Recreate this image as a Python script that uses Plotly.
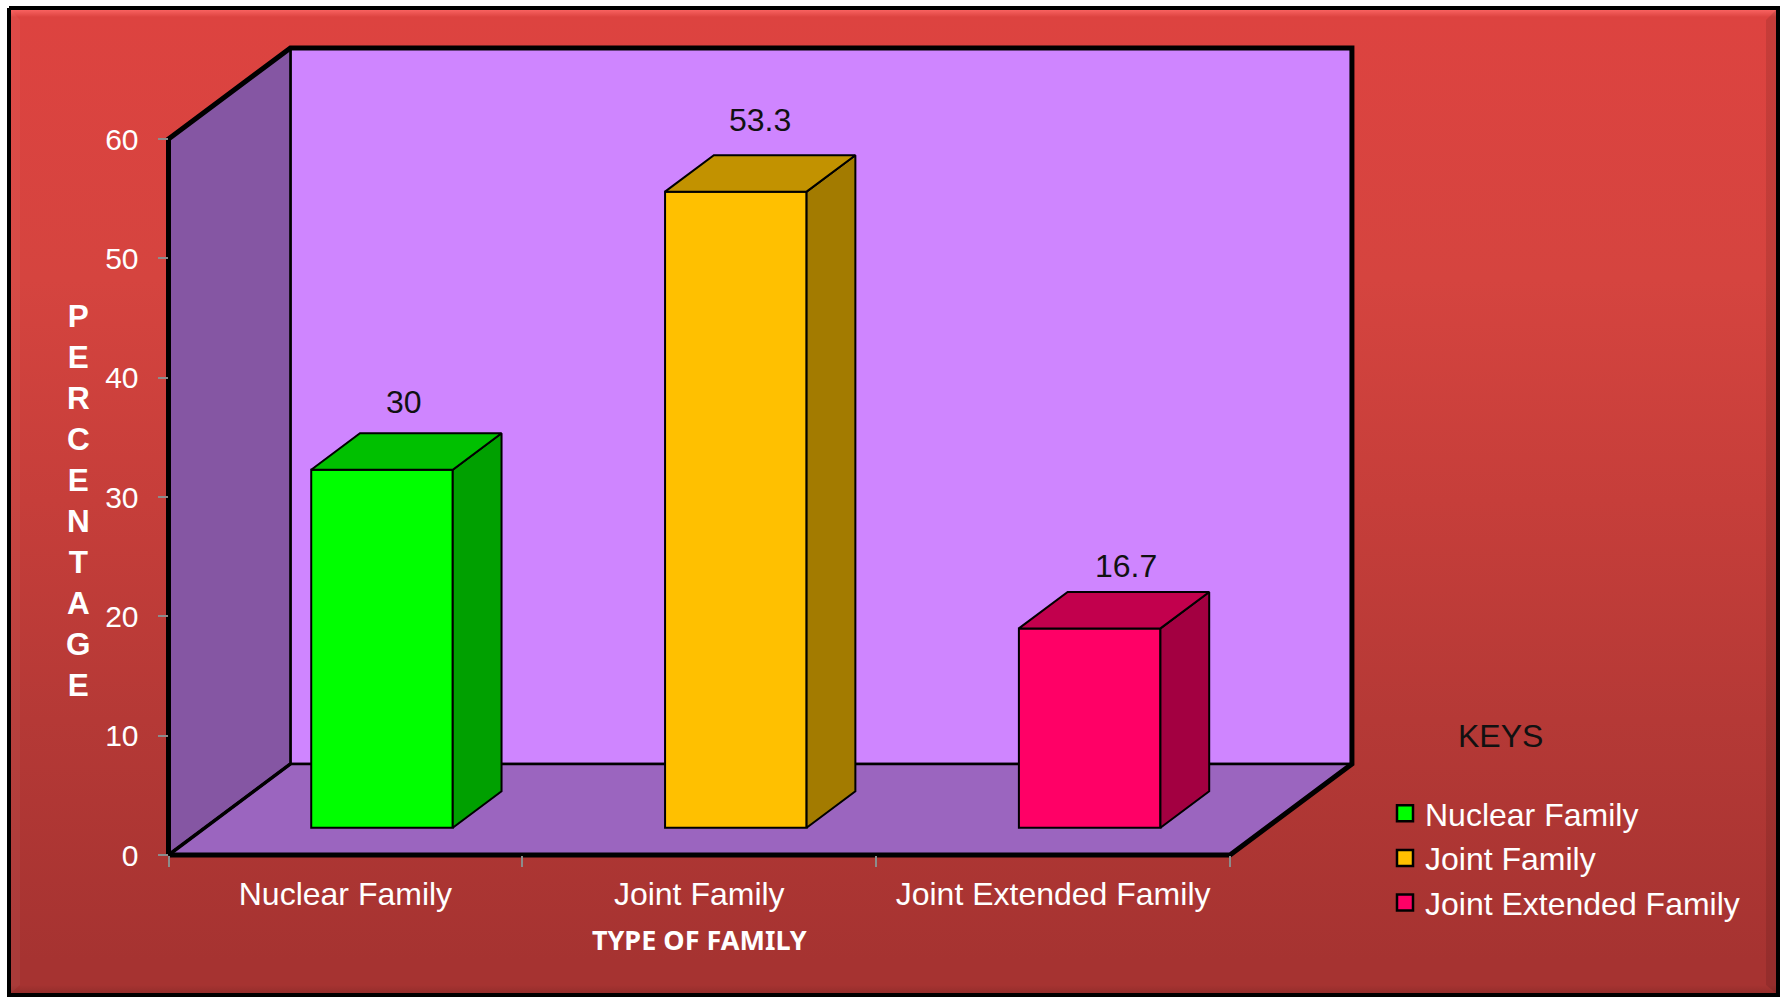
import plotly.graph_objects as go

# ---- data ----
categories = ["Nuclear Family", "Joint Family", "Joint Extended Family"]
values = [30, 53.3, 16.7]
value_labels = ["30", "53.3", "16.7"]
y_ticks = [0, 10, 20, 30, 40, 50, 60]
front_colors = ["#00FF00", "#FFC000", "#FF0066"]
side_colors = ["#00A000", "#A37B00", "#A30041"]
top_colors = ["#00C000", "#C29200", "#C2004D"]
label_xshift = [-2, 0, 11.5]
label_yshift = [49, 53, 44]

# ---- oblique projection, in axis units ----
W, H = 1780, 997
DX, DY = 0.3446, 7.63      # full depth of the box
BAR_W, BAR_FRONT, BAR_DEPTH = 0.4, 0.3, 0.4
XR, YR = [-0.5, 2.5], [0, 60]
FX0, FX1, FY0, FY1 = 168.5, 1230, 855, 139   # front plane, pixels
PADX, PADY = 0.05, 1.5
BLACK = "#000000"
FONT = "Liberation Sans"

sx = (FX1 - FX0) / (XR[1] - XR[0])
sy = (FY0 - FY1) / (YR[1] - YR[0])

fig = go.Figure()

# page background (pixel axes)
bg_stops = [(0, "#F86260"), (10, "#F86260"), (17, "#DD4340"), (280, "#D5443F"),
            (500, "#C63E3A"), (720, "#B53936"), (960, "#A63331"), (985, "#A63331"), (997, "#8C2B29")]
fig.add_trace(go.Scatter(
    x=[9, 1778, 1778, 9, 9], y=[8, 8, 995, 995, 8], mode="lines", fill="toself",
    line=dict(color=BLACK, width=4), hoverinfo="skip", showlegend=False,
    fillgradient=dict(type="vertical", start=0, stop=H,
                      colorscale=[[p / H, c] for p, c in bg_stops]),
    xaxis="x", yaxis="y"))
# bevels
fig.add_trace(go.Scatter(x=[11, 20, 20, 11, 11], y=[10, 20, 985, 993, 10], mode="lines", fill="toself",
                         line=dict(width=0), fillcolor="rgba(255,255,255,0.04)", hoverinfo="skip",
                         showlegend=False, xaxis="x", yaxis="y"))
fig.add_trace(go.Scatter(x=[1776, 1766, 1766, 1776, 1776], y=[10, 20, 985, 993, 10], mode="lines", fill="toself",
                         line=dict(width=0), fillcolor="rgba(0,0,0,0.10)", hoverinfo="skip",
                         showlegend=False, xaxis="x", yaxis="y"))


def poly(pts, fill, lw=1.5, axes="x3"):
    xs = [p[0] for p in pts]
    ys = [p[1] for p in pts]
    ynum = "y" + axes[1:]
    fig.add_trace(go.Scatter(x=xs, y=ys, mode="lines", fill="toself" if fill else "none",
                             fillcolor=fill, line=dict(color=BLACK, width=lw),
                             hoverinfo="skip", showlegend=False, xaxis=axes, yaxis=ynum))


x0, x1 = XR
y0, y1 = YR
# walls and floor (on a hidden axis pair with the same scale, slightly larger domain)
poly([(x0 + DX, y0 + DY), (x1 + DX, y0 + DY), (x1 + DX, y1 + DY), (x0 + DX, y1 + DY), (x0 + DX, y0 + DY)], "#CF85FF", 2.5, "x2")
poly([(x0, y0), (x0 + DX, y0 + DY), (x0 + DX, y1 + DY), (x0, y1), (x0, y0)], "#8556A3", 2.5, "x2")
poly([(x0, y0), (x1, y0), (x1 + DX, y0 + DY), (x0 + DX, y0 + DY), (x0, y0)], "#9B65BF", 2.5, "x2")
# heavy outer edges
fig.add_trace(go.Scatter(
    x=[x0, x0, x0 + DX, x1 + DX, x1 + DX, x1, x0],
    y=[y0, y1, y1 + DY, y1 + DY, y0 + DY, y0, y0],
    mode="lines", line=dict(color=BLACK, width=5), hoverinfo="skip",
    showlegend=False, xaxis="x2", yaxis="y2"))
fig.add_trace(go.Scatter(x=[x0, x0 + DX], y=[y0, y0 + DY], mode="lines", line=dict(color=BLACK, width=3.5),
                         hoverinfo="skip", showlegend=False, xaxis="x2", yaxis="y2"))

# bars: real bars for the front, polygons for the side and top faces
fx = BAR_FRONT * DX
fy = BAR_FRONT * DY
bx = BAR_DEPTH * DX
by = BAR_DEPTH * DY
for i, (cat, val) in enumerate(zip(categories, values)):
    fig.add_trace(go.Bar(x=[i + fx], y=[val], base=[fy], width=[BAR_W], name=cat,
                         marker=dict(color=front_colors[i], line=dict(color=BLACK, width=2)),
                         showlegend=False, hovertemplate=cat + ": %{y}<extra></extra>",
                         xaxis="x3", yaxis="y3"))
    l, r = i + fx - BAR_W / 2, i + fx + BAR_W / 2
    t = fy + val
    poly([(r, fy), (r + bx, fy + by), (r + bx, t + by), (r, t), (r, fy)], side_colors[i], 2)
    poly([(l, t), (r, t), (r + bx, t + by), (l + bx, t + by), (l, t)], top_colors[i], 2)
    fig.add_annotation(x=i + fx + bx / 2, y=t + by / 2, xref="x3", yref="y3", text=value_labels[i],
                       showarrow=False, xshift=label_xshift[i], yshift=label_yshift[i],
                       font=dict(family=FONT, size=32, color="#111111"))
    # legend entry
    fig.add_trace(go.Scatter(x=[None], y=[None], mode="markers", name=cat,
                             marker=dict(symbol="square", size=16, color=front_colors[i],
                                         line=dict(color=BLACK, width=2.5)),
                             xaxis="x3", yaxis="y3"))

hidden = dict(visible=False, fixedrange=True)

fig.add_annotation(x=78 / W, y=1 - 500 / H, xref="paper", yref="paper", showarrow=False,
                   xanchor="center", yanchor="middle",
                   text="<br>".join("PERCENTAGE"), align="center",
                   font=dict(family=FONT, size=31.5, color="white", weight="bold"))
fig.add_annotation(x=1500 / W, y=1 - 735.5 / H, xref="paper", yref="paper", showarrow=False,
                   xanchor="center", yanchor="middle",
                   text="KEYS", font=dict(family=FONT, size=32, color="#111111"))

fig.update_layout(
    width=W, height=H, margin=dict(l=0, r=0, t=0, b=0, autoexpand=False),
    paper_bgcolor="white", plot_bgcolor="rgba(0,0,0,0)",
    showlegend=True, barmode="overlay", hovermode="closest",
    xaxis=dict(domain=[0, 1], range=[0, W], **hidden),
    yaxis=dict(domain=[0, 1], range=[H, 0], **hidden),
    xaxis2=dict(domain=[(FX0 - PADX * sx) / W, (FX1 + (DX + PADX) * sx) / W],
                range=[x0 - PADX, x1 + DX + PADX], anchor="y2", **hidden),
    yaxis2=dict(domain=[(H - FY0 - PADY * sy) / H, (H - FY1 + (DY + PADY) * sy) / H],
                range=[y0 - PADY, y1 + DY + PADY], anchor="x2", **hidden),
    xaxis3=dict(domain=[FX0 / W, FX1 / W], range=XR, anchor="y3", showgrid=False, zeroline=False, showline=False,
                tickmode="array", tickvals=[0, 1, 2], ticktext=categories, ticks="outside", ticklen=1,
                tickcolor="rgba(0,0,0,0)", ticklabelstandoff=10, tickangle=0,
                tickfont=dict(family=FONT, size=32, color="white"),
                minor=dict(tickmode="array", tickvals=[-0.5, 0.5, 1.5, 2.5], ticks="outside", ticklen=11,
                           tickwidth=2, tickcolor="#8C8C8C", showgrid=False),
                title=dict(text="<b>TYPE OF FAMILY</b>", standoff=19,
                           font=dict(family="Noto Sans", size=27, color="white"))),
    yaxis3=dict(domain=[(H - FY0) / H, (H - FY1) / H], range=YR, anchor="x3", showgrid=False, zeroline=False,
                showline=False, tickmode="array", tickvals=y_ticks, ticks="outside", ticklen=10, tickwidth=2,
                tickcolor="#8C8C8C", ticklabelstandoff=13,
                tickfont=dict(family=FONT, size=30, color="white")),
    legend=dict(x=1385 / W, xanchor="left", y=1 - 786 / H, yanchor="top", bgcolor="rgba(0,0,0,0)",
                borderwidth=0, font=dict(family=FONT, size=32, color="white"),
                itemclick=False, itemdoubleclick=False),
)

fig.write_html("out.html", config={"displayModeBar": False},
               post_script="document.body.style.margin='0';document.documentElement.style.overflow='hidden';")
